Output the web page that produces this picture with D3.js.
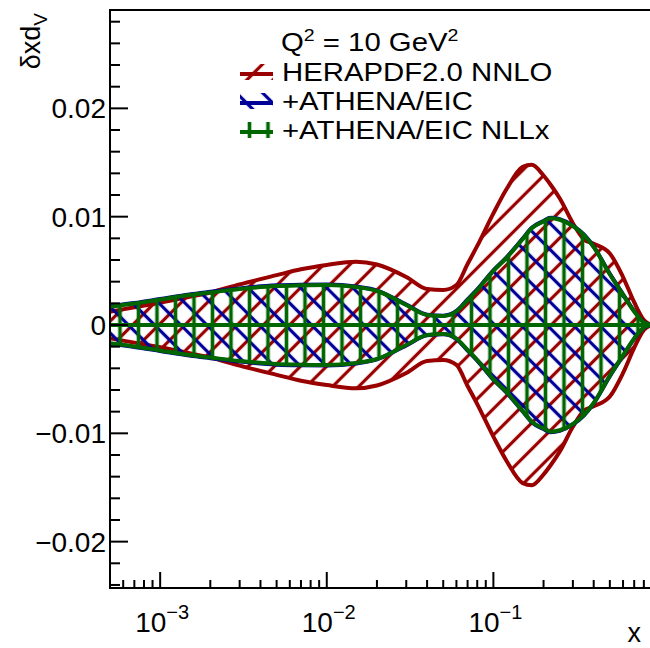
<!DOCTYPE html>
<html>
<head>
<meta charset="utf-8">
<script src="https://cdn.jsdelivr.net/npm/d3@7"></script>
<style>
    body { margin: 0; background: #fff; }
    text { font-family: "Liberation Sans", Arial, sans-serif; fill: #000; }
</style>
</head>
<body>
<script>

// x grid and half-widths of the uncertainty bands (units of 1e-3)
const xValues = [5e-4, 7e-4, 1e-3, 1.5e-3, 2e-3, 3e-3, 5e-3, 7e-3, 1e-2, 1.5e-2, 2e-2, 3e-2, 4e-2, 5e-2, 6e-2, 7e-2, 8e-2,
    0.1, 0.12, 0.15, 0.17, 0.2, 0.22, 0.25, 0.3, 0.35, 0.4, 0.5, 0.6, 0.7, 0.8, 0.88];
const heraUnc = [1.23, 1.63, 2.06, 2.6, 3.0, 3.75, 4.6, 5.14, 5.54, 5.84, 5.58, 4.43, 3.32, 3.23, 3.69, 5.63, 7.3,
    10.3, 12.55, 14.6, 14.8, 13.8, 12.97, 11.7, 9.4, 7.9, 7.5, 6.6, 4.43, 2.1, 0.46, 0];
const athenaUnc = [1.74, 2.03, 2.4, 2.82, 3.06, 3.38, 3.66, 3.72, 3.74, 3.55, 3.18, 1.88, 0.95, 0.86, 1.3, 2.36, 3.28,
    5.05, 6.25, 7.98, 8.97, 9.6, 9.9, 9.77, 9.18, 8.34, 7.24, 4.72, 2.84, 1.28, 0.25, 0];
const nllxUnc = [1.69, 1.98, 2.35, 2.77, 3.0, 3.32, 3.6, 3.66, 3.69, 3.5, 3.14, 1.85, 0.92, 0.83, 1.25, 2.3, 3.23,
    5.0, 6.2, 7.94, 8.93, 9.55, 9.85, 9.72, 9.14, 8.3, 7.2, 4.68, 2.8, 1.25, 0.23, 0];

const yTickValues = [-0.02, -0.01, 0, 0.01, 0.02];
const yTickLabels = ["\u22120.02", "\u22120.01", "0", "0.01", "0.02"];
const xTickExponents = [-3, -2, -1];
const legendLabels = ["HERAPDF2.0 NNLO", "+ATHENA/EIC", "+ATHENA/EIC NLLx"];

let w = 650,
    h = 648;
let mLeft = 110, mTop = 10, mRight = 660, mBottom = 588;

let svg = d3.select("body").append("svg")
    .attr("width", w)
    .attr("height", h);

let x = d3.scaleLog().domain([5e-4, 1]).range([mLeft, mRight]);
let y = d3.scaleLinear().domain([-0.02428, 0.02908]).range([mBottom, mTop]);

let defs = svg.append("defs");
defs.append("clipPath").attr("id", "frame")
    .append("rect")
    .attr("x", mLeft).attr("y", mTop)
    .attr("width", mRight - mLeft).attr("height", mBottom - mTop);

function addHatch(id, color, angle, sw) {
    let p = defs.append("pattern")
        .attr("id", id)
        .attr("patternUnits", "userSpaceOnUse")
        .attr("x", 120 - 9.25)
        .attr("y", 0)
        .attr("width", 18.5)
        .attr("height", 18.5);
    if (angle) p.attr("patternTransform", "rotate(" + angle + ")");
    p.append("line")
        .attr("x1", 9.25).attr("y1", -2)
        .attr("x2", 9.25).attr("y2", 20.5)
        .attr("stroke", color)
        .attr("stroke-width", sw);
}

let bands = [
    { unc: heraUnc, color: "#990000", hatch: "hatchRed", angle: 45, sw: 3.2 },
    { unc: athenaUnc, color: "#000099", hatch: "hatchBlue", angle: -45, sw: 3.2 },
    { unc: nllxUnc, color: "#006600", hatch: "hatchGreen", angle: 0, sw: 3.6 }
];
bands.forEach(function (b) {
    addHatch(b.hatch, b.color, b.angle, b.sw);
});

let plot = svg.append("g").attr("clip-path", "url(#frame)");

bands.forEach(function (b) {
    let pts = xValues.map(function (xv, i) {
        return { x: xv, v: b.unc[i] * 1e-3 };
    });

    let area = d3.area()
        .curve(d3.curveMonotoneX)
        .x(function (d) { return x(d.x); })
        .y0(function (d) { return y(-d.v); })
        .y1(function (d) { return y(d.v); });

    let edge = function (sign) {
        return d3.line()
            .curve(d3.curveMonotoneX)
            .x(function (d) { return x(d.x); })
            .y(function (d) { return y(sign * d.v); });
    };

    plot.append("path")
        .datum(pts)
        .attr("d", area)
        .attr("fill", "url(#" + b.hatch + ")");

    [1, -1].forEach(function (s) {
        plot.append("path")
            .datum(pts)
            .attr("d", edge(s))
            .attr("fill", "none")
            .attr("stroke", b.color)
            .attr("stroke-width", 4)
            .attr("stroke-linejoin", "round");
    });

    plot.append("line")
        .attr("x1", x(xValues[0])).attr("x2", x(xValues[xValues.length - 1]))
        .attr("y1", y(0)).attr("y2", y(0))
        .attr("stroke", b.color)
        .attr("stroke-width", 4);
});

// frame
let axes = svg.append("g")
    .attr("stroke", "#000")
    .attr("stroke-width", 2)
    .attr("fill", "none");
axes.append("path")
    .attr("d", "M" + mRight + "," + mTop + "H" + mLeft + "V" + mBottom + "H" + mRight);

// y ticks
d3.range(-24, 30, 2).forEach(function (k) {
    let major = k % 10 === 0;
    axes.append("line")
        .attr("x1", mLeft).attr("x2", mLeft + (major ? 18 : 10))
        .attr("y1", y(k * 1e-3)).attr("y2", y(k * 1e-3));
});

// x ticks (log)
[-4, -3, -2, -1, 0].forEach(function (d) {
    d3.range(1, 10).forEach(function (m) {
        let v = m * Math.pow(10, d);
        if (v < x.domain()[0] || v > x.domain()[1]) return;
        axes.append("line")
            .attr("x1", x(v)).attr("x2", x(v))
            .attr("y1", mBottom).attr("y2", mBottom - (m === 1 ? 16 : 8));
    });
});

// y tick labels
svg.selectAll(".ylab")
    .data(yTickValues)
    .enter().append("text")
    .attr("class", "ylab")
    .attr("x", 106)
    .attr("y", function (d) { return y(d) + 10; })
    .attr("text-anchor", "end")
    .attr("font-size", 28)
    .text(function (d, i) { return yTickLabels[i]; });

// x tick labels
xTickExponents.forEach(function (e) {
    let t = svg.append("text")
        .attr("x", x(Math.pow(10, e)) + 2)
        .attr("y", 632)
        .attr("text-anchor", "middle")
        .attr("font-size", 28);
    t.append("tspan").text("10");
    t.append("tspan").attr("dy", -13).attr("font-size", 20).text("\u2212" + Math.abs(e));
});

// axis titles
svg.append("text")
    .attr("x", 641)
    .attr("y", 642)
    .attr("text-anchor", "end")
    .attr("font-size", 27)
    .text("x");

let yt = svg.append("text")
    .attr("transform", "translate(40,13) rotate(-90)")
    .attr("text-anchor", "end")
    .attr("font-size", 27);
yt.append("tspan").text("\u03b4xd");
yt.append("tspan").attr("dy", 7).attr("font-size", 19).text("V");

// legend
let header = svg.append("text")
    .attr("transform", "translate(281,51) scale(1.15,1)")
    .attr("font-size", 25.5);
header.append("tspan").text("Q");
header.append("tspan").attr("dy", -10).attr("font-size", 17).text("2");
header.append("tspan").attr("dy", 10).text(" = 10 GeV");
header.append("tspan").attr("dy", -10).attr("font-size", 17).text("2");

legendLabels.forEach(function (label, i) {
    let b = bands[i];
    let cy = 72 + i * 29;
    svg.append("rect")
        .attr("x", 240).attr("y", cy - 8)
        .attr("width", 33).attr("height", 16)
        .attr("fill", "url(#" + b.hatch + ")");
    svg.append("line")
        .attr("x1", 240).attr("x2", 273)
        .attr("y1", cy + 2).attr("y2", cy + 2)
        .attr("stroke", b.color)
        .attr("stroke-width", 4);
    svg.append("text")
        .attr("transform", "translate(282," + (cy + 9) + ") scale(1.15,1)")
        .attr("font-size", 25.5)
        .text(label);
});

</script>
</body>
</html>
